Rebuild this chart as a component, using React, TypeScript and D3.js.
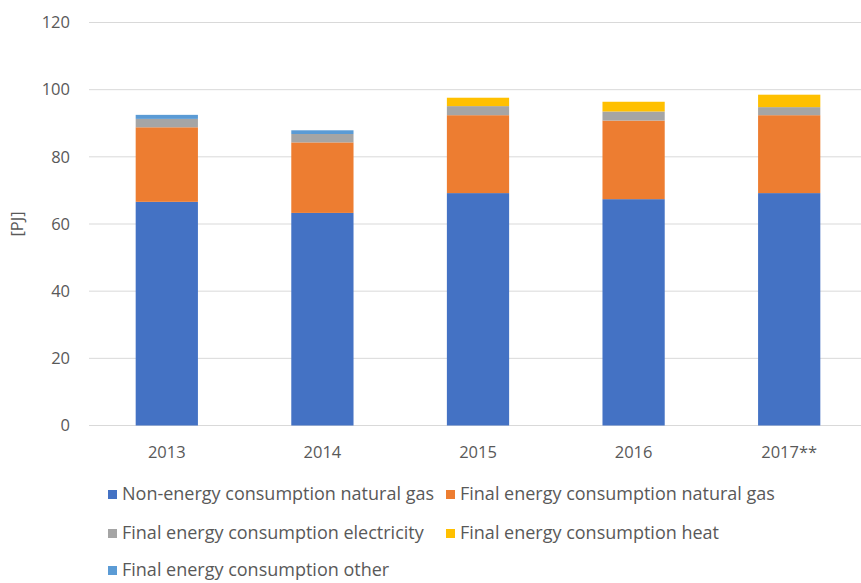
import React, { useEffect, useRef } from 'react';
import * as d3 from 'd3';

const years = ['2013', '2014', '2015', '2016', '2017**'];
const nonEnergyGas = [66.6, 63.3, 69.2, 67.4, 69.2];
const finalGas = [22.2, 21.0, 23.2, 23.4, 23.2];
const finalElectricity = [2.5, 2.5, 2.7, 2.7, 2.4];
const finalHeat = [0, 0, 2.5, 2.9, 3.7];
const finalOther = [1.2, 1.1, 0, 0, 0];
const yTicks = [0, 20, 40, 60, 80, 100, 120];

const SERIES = [
  { key: 'nonEnergyGas', label: 'Non-energy consumption natural gas', color: '#4472C4', values: nonEnergyGas },
  { key: 'finalGas', label: 'Final energy consumption natural gas', color: '#ED7D31', values: finalGas },
  { key: 'finalElectricity', label: 'Final energy consumption electricity', color: '#A5A5A5', values: finalElectricity },
  { key: 'finalHeat', label: 'Final energy consumption heat', color: '#FFC000', values: finalHeat },
  { key: 'finalOther', label: 'Final energy consumption other', color: '#5B9BD5', values: finalOther },
];

const FONT = "'Open Sans', 'Noto Sans', sans-serif";
const TEXT = '#595959';

export default function App() {
  const svgRef = useRef<SVGSVGElement>(null);

  useEffect(() => {
    if (!svgRef.current) return;
    const width = 861;
    const height = 583;
    const svg = d3.select(svgRef.current);
    svg.selectAll('*').remove();
    svg.attr('width', width).attr('height', height);

    const x = d3.scaleBand<string>().domain(years).range([89, 867]).paddingInner(0.6).paddingOuter(0.3);
    const y = d3.scaleLinear().domain([0, 120]).range([425.5, 22.5]);

    // Grid lines
    svg
      .append('g')
      .selectAll('line')
      .data(yTicks)
      .join('line')
      .attr('x1', 89)
      .attr('x2', width)
      .attr('y1', (d) => y(d))
      .attr('y2', (d) => y(d))
      .attr('stroke', '#d9d9d9')
      .attr('stroke-width', 1);

    // Y tick labels
    svg
      .append('g')
      .selectAll('text')
      .data(yTicks)
      .join('text')
      .attr('x', 70)
      .attr('y', (d) => y(d))
      .attr('dy', '0.35em')
      .attr('text-anchor', 'end')
      .attr('fill', TEXT)
      .attr('font-family', FONT)
      .attr('font-size', '16.5px')
      .text((d) => d);

    // Stacked bars
    const rows = years.map((yr, i) => {
      const r: Record<string, any> = { year: yr };
      SERIES.forEach((s) => (r[s.key] = s.values[i]));
      return r;
    });
    const stacked = d3.stack<any>().keys(SERIES.map((s) => s.key))(rows);

    svg
      .append('g')
      .selectAll('g')
      .data(stacked)
      .join('g')
      .attr('fill', (_, i) => SERIES[i].color)
      .selectAll('rect')
      .data((d) => d)
      .join('rect')
      .attr('x', (d) => x(d.data.year)!)
      .attr('width', x.bandwidth())
      .attr('y', (d) => y(d[1]))
      .attr('height', (d) => y(d[0]) - y(d[1]));

    // X labels
    svg
      .append('g')
      .selectAll('text')
      .data(years)
      .join('text')
      .attr('x', (d) => x(d)! + x.bandwidth() / 2)
      .attr('y', 452)
      .attr('dy', '0.35em')
      .attr('text-anchor', 'middle')
      .attr('fill', TEXT)
      .attr('font-family', FONT)
      .attr('font-size', '16.5px')
      .text((d) => d);

    // Y axis title
    svg
      .append('text')
      .attr('transform', `translate(17,224) rotate(-90)`)
      .attr('text-anchor', 'middle')
      .attr('dy', '0.35em')
      .attr('fill', TEXT)
      .attr('font-family', FONT)
      .attr('font-size', '16.5px')
      .text('[PJ]');

    // Legend
    const legendPos = [
      [108, 494],
      [446, 494],
      [108, 533],
      [446, 533],
      [108, 570],
    ];
    const legend = svg
      .append('g')
      .selectAll('g')
      .data(SERIES)
      .join('g')
      .attr('transform', (_, i) => `translate(${legendPos[i][0]},${legendPos[i][1]})`);
    legend
      .append('rect')
      .attr('x', 0)
      .attr('y', -4)
      .attr('width', 9)
      .attr('height', 9)
      .attr('fill', (d) => d.color);
    legend
      .append('text')
      .attr('x', 14)
      .attr('y', 0)
      .attr('dy', '0.35em')
      .attr('fill', TEXT)
      .attr('font-family', FONT)
      .attr('font-size', '18px')
      .text((d) => d.label);
  }, []);

  return (
    <div style={{ position: 'absolute', left: 0, top: 0, width: 861, height: 583, background: '#fff' }}>
      <svg ref={svgRef} style={{ display: 'block' }} />
    </div>
  );
}
